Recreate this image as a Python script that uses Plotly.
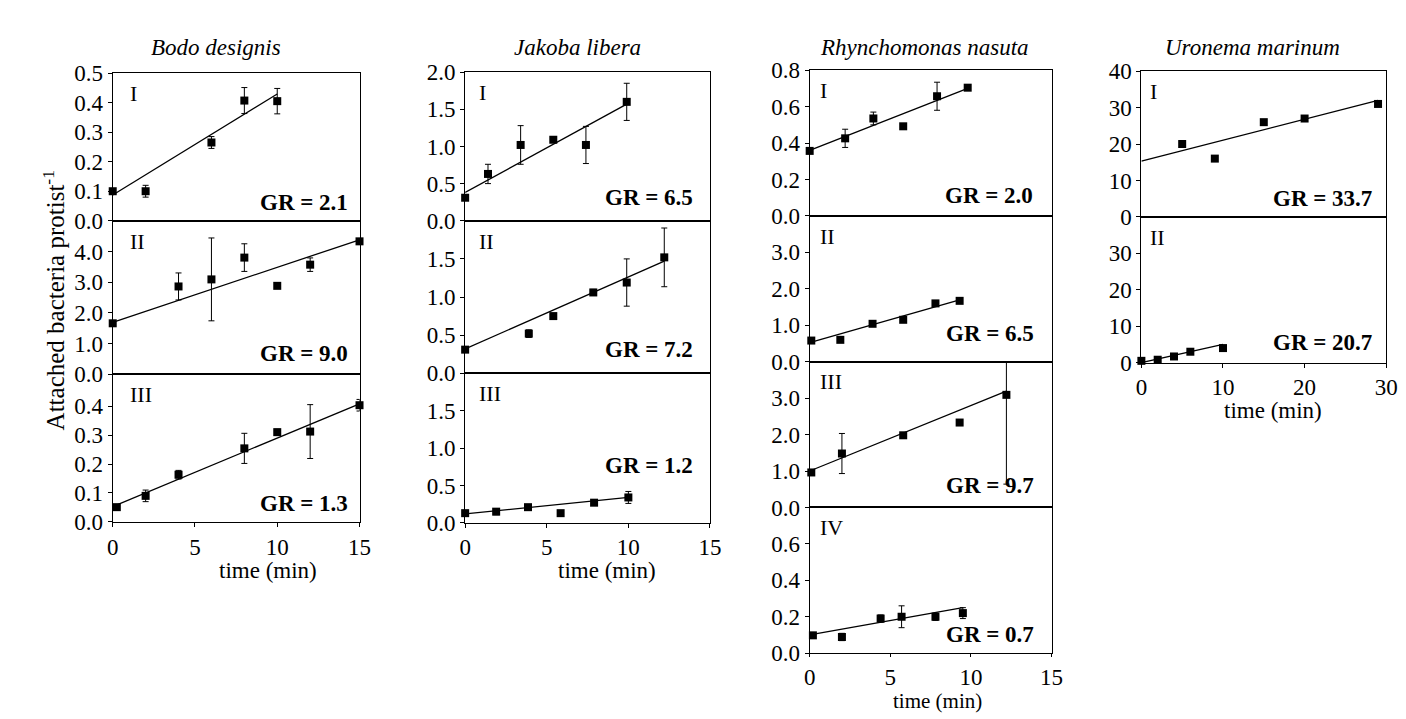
import plotly.graph_objects as go

# ---------------- data ----------------
species = ["Bodo designis", "Jakoba libera", "Rhynchomonas nasuta", "Uronema marinum"]
y_title = "Attached bacteria protist<sup>-1</sup>"
x_title = "time (min)"

# Bodo designis
bodo1_t = [0, 2, 6, 8, 10]
bodo1_y = [0.10, 0.10, 0.265, 0.407, 0.405]
bodo1_e = [0.0, 0.02, 0.02, 0.044, 0.043]
bodo1_fit_t = [0, 10]
bodo1_fit_y = [0.087, 0.429]
bodo1_gr = "GR = 2.1"

bodo2_t = [0, 4, 6, 8, 10, 12, 15]
bodo2_y = [1.66, 2.86, 3.09, 3.80, 2.88, 3.57, 4.33]
bodo2_e = [0.0, 0.44, 1.35, 0.45, 0.0, 0.22, 0.0]
bodo2_fit_t = [0, 15]
bodo2_fit_y = [1.69, 4.38]
bodo2_gr = "GR = 9.0"

bodo3_t = [0.25, 2, 4, 8, 10, 12, 15]
bodo3_y = [0.051, 0.090, 0.163, 0.254, 0.310, 0.312, 0.403]
bodo3_e = [0.0, 0.02, 0.015, 0.052, 0.01, 0.093, 0.02]
bodo3_fit_t = [0, 15]
bodo3_fit_y = [0.053, 0.408]
bodo3_gr = "GR = 1.3"

# Jakoba libera
jak1_t = [0, 1.4, 3.4, 5.4, 7.4, 9.9]
jak1_y = [0.31, 0.63, 1.02, 1.09, 1.02, 1.60]
jak1_e = [0.0, 0.13, 0.26, 0.03, 0.25, 0.25]
jak1_fit_t = [0, 9.9]
jak1_fit_y = [0.38, 1.57]
jak1_gr = "GR = 6.5"

jak2_t = [0, 3.9, 5.4, 7.85, 9.9, 12.2]
jak2_y = [0.31, 0.52, 0.75, 1.06, 1.19, 1.52]
jak2_e = [0.0, 0.05, 0.0, 0.04, 0.31, 0.385]
jak2_fit_t = [0, 12.2]
jak2_fit_y = [0.32, 1.47]
jak2_gr = "GR = 7.2"

jak3_t = [0, 1.9, 3.85, 5.85, 7.9, 10.0]
jak3_y = [0.13, 0.15, 0.21, 0.13, 0.27, 0.34]
jak3_e = [0.0, 0.04, 0.0, 0.0, 0.03, 0.08]
jak3_fit_t = [0, 10]
jak3_fit_y = [0.12, 0.34]
jak3_gr = "GR = 1.2"

# Rhynchomonas nasuta
rhy1_t = [0, 2.2, 3.95, 5.8, 7.9, 9.8]
rhy1_y = [0.357, 0.426, 0.535, 0.492, 0.657, 0.704]
rhy1_e = [0.0, 0.05, 0.035, 0.0, 0.077, 0.0]
rhy1_fit_t = [0, 9.8]
rhy1_fit_y = [0.36, 0.70]
rhy1_gr = "GR = 2.0"

rhy2_t = [0.1, 1.9, 3.9, 5.8, 7.8, 9.3]
rhy2_y = [0.58, 0.60, 1.04, 1.15, 1.60, 1.67]
rhy2_e = [0.0, 0.0, 0.0, 0.0, 0.0, 0.0]
rhy2_fit_t = [0, 9.3]
rhy2_fit_y = [0.52, 1.70]
rhy2_gr = "GR = 6.5"

rhy3_t = [0.1, 2.0, 5.8, 9.3, 12.2]
rhy3_y = [0.96, 1.48, 1.98, 2.33, 3.09]
rhy3_e = [0.0, 0.55, 0.0, 0.0, 2.45]
rhy3_fit_t = [0, 12.2]
rhy3_fit_y = [1.0, 3.19]
rhy3_gr = "GR = 9.7"

rhy4_t = [0.2, 2.0, 4.4, 5.7, 7.8, 9.5]
rhy4_y = [0.098, 0.089, 0.19, 0.20, 0.20, 0.22]
rhy4_e = [0.0, 0.02, 0.02, 0.06, 0.02, 0.03]
rhy4_fit_t = [0, 9.5]
rhy4_fit_y = [0.10, 0.25]
rhy4_gr = "GR = 0.7"

# Uronema marinum
uro1_t = [5, 9, 15, 20, 29]
uro1_y = [20.0, 16.0, 26.0, 27.0, 31.0]
uro1_e = [0, 0, 0, 0, 0]
uro1_fit_t = [0, 29]
uro1_fit_y = [15.3, 32.0]
uro1_gr = "GR = 33.7"

uro2_t = [0, 2, 4, 6, 10]
uro2_y = [0.5, 0.8, 1.7, 3.0, 4.0]
uro2_e = [0, 0, 0, 0, 0]
uro2_fit_t = [0, 10]
uro2_fit_y = [0.0, 5.0]
uro2_gr = "GR = 20.7"

roman = ["I", "II", "III", "IV"]

# ---------------- layout geometry (pixels) ----------------
W, H = 1406, 719
col_x = [(100, 350), (457, 705), (806, 1051), (1142, 1390)]
col_rows = [
    [(55, 208), (208, 367), (367, 520)],
    [(54, 208), (208, 366), (366, 521)],
    [(52, 203), (203, 354), (354, 505), (505, 656)],
    [(53, 204), (204, 355)],
]
x_ranges = [[0, 15], [0, 15], [0, 15], [0, 30]]
x_ticks = [[0, 5, 10, 15], [0, 5, 10, 15], [0, 5, 10, 15], [0, 10, 20, 30]]
x_ticklen = [4, 4, 3, 4]
title_cx = [205, 571, 922, 1255]           # species title centres
xtitle_cx = [257, 601, 935, 1275]          # "time (min)" centres
xtitle_cy = [570, 570, None, 405]          # None -> bottom of figure
roman_inset = [15, 12, 8, 7]

panels = [
    # col, row, t, y, err, fit_t, fit_y, gr, yrange, yticks, fmt, (gr right inset, gr baseline above bottom)
    (0, 0, bodo1_t, bodo1_y, bodo1_e, bodo1_fit_t, bodo1_fit_y, bodo1_gr, [0, 0.5], [0, 0.1, 0.2, 0.3, 0.4, 0.5], ".1f", (10, 10)),
    (0, 1, bodo2_t, bodo2_y, bodo2_e, bodo2_fit_t, bodo2_fit_y, bodo2_gr, [0, 5], [0, 1, 2, 3, 4], ".1f", (10, 12)),
    (0, 2, bodo3_t, bodo3_y, bodo3_e, bodo3_fit_t, bodo3_fit_y, bodo3_gr, [0, 0.51], [0, 0.1, 0.2, 0.3, 0.4], ".1f", (10, 10)),
    (1, 0, jak1_t, jak1_y, jak1_e, jak1_fit_t, jak1_fit_y, jak1_gr, [0, 2], [0, 0.5, 1, 1.5, 2], ".1f", (15, 15)),
    (1, 1, jak2_t, jak2_y, jak2_e, jak2_fit_t, jak2_fit_y, jak2_gr, [0, 2], [0, 0.5, 1, 1.5], ".1f", (15, 16)),
    (1, 2, jak3_t, jak3_y, jak3_e, jak3_fit_t, jak3_fit_y, jak3_gr, [0, 2], [0, 0.5, 1, 1.5], ".1f", (15, 50)),
    (2, 0, rhy1_t, rhy1_y, rhy1_e, rhy1_fit_t, rhy1_fit_y, rhy1_gr, [0, 0.8], [0, 0.2, 0.4, 0.6, 0.8], ".1f", (17, 12)),
    (2, 1, rhy2_t, rhy2_y, rhy2_e, rhy2_fit_t, rhy2_fit_y, rhy2_gr, [0, 4], [0, 1, 2, 3], ".1f", (16, 20)),
    (2, 2, rhy3_t, rhy3_y, rhy3_e, rhy3_fit_t, rhy3_fit_y, rhy3_gr, [0, 4], [0, 1, 2, 3], ".1f", (16, 14)),
    (2, 3, rhy4_t, rhy4_y, rhy4_e, rhy4_fit_t, rhy4_fit_y, rhy4_gr, [0, 0.8], [0, 0.2, 0.4, 0.6], ".1f", (16, 10)),
    (3, 0, uro1_t, uro1_y, uro1_e, uro1_fit_t, uro1_fit_y, uro1_gr, [0, 40], [0, 10, 20, 30, 40], "d", (12, 10)),
    (3, 1, uro2_t, uro2_y, uro2_e, uro2_fit_t, uro2_fit_y, uro2_gr, [0, 40], [0, 10, 20, 30], "d", (12, 12)),
]

FONT = "Liberation Serif, Times New Roman, serif"
fig = go.Figure()
annotations = []


def px_x(p):
    return p / W


def px_y(p):
    return 1 - p / H


for i, (c, r, t, y, e, ft, fy, gr, yr, yt, fmt, gro) in enumerate(panels):
    n = i + 1
    xa = "x" if n == 1 else f"x{n}"
    ya = "y" if n == 1 else f"y{n}"
    x0, x1 = col_x[c]
    top, bot = col_rows[c][r]
    is_bottom = r == len(col_rows[c]) - 1

    fig.add_trace(go.Scatter(
        x=ft, y=fy, mode="lines", line=dict(color="black", width=1.3),
        xaxis=xa, yaxis=ya, showlegend=False, hoverinfo="skip"))
    fig.add_trace(go.Scatter(
        x=t, y=y, mode="markers",
        marker=dict(symbol="square", size=8, color="black"),
        error_y=dict(type="data", array=e, visible=True, color="black",
                     thickness=1, width=3),
        cliponaxis=False,
        xaxis=xa, yaxis=ya, showlegend=False))

    xkey = "xaxis" if n == 1 else f"xaxis{n}"
    ykey = "yaxis" if n == 1 else f"yaxis{n}"
    xaxis = dict(
        domain=[px_x(x0), px_x(x1)], range=x_ranges[c], anchor=ya,
        showline=True, linecolor="black", linewidth=1, mirror=True,
        showgrid=False, zeroline=False, fixedrange=True)
    if is_bottom:
        xaxis.update(tickmode="array", tickvals=x_ticks[c], ticks="outside",
                     ticklen=x_ticklen[c], tickcolor="black", showticklabels=True,
                     tickfont=dict(family=FONT, size=23, color="black"))
    else:
        xaxis.update(showticklabels=False, ticks="")
    fig.layout[xkey] = xaxis
    fig.layout[ykey] = dict(
        domain=[px_y(bot), px_y(top)], range=yr, anchor=xa,
        showline=True, linecolor="black", linewidth=1, mirror=True,
        showgrid=False, zeroline=False,
        tickmode="array", tickvals=yt, tickformat=fmt,
        ticks="outside", ticklen=4, tickcolor="black",
        tickfont=dict(family=FONT, size=23, color="black"),
        fixedrange=True)

    annotations.append(dict(
        text=roman[r], x=px_x(x0 + roman_inset[c]), y=px_y(top + 6), xref="paper", yref="paper",
        xanchor="left", yanchor="top", showarrow=False,
        font=dict(family=FONT, size=22, color="black")))
    annotations.append(dict(
        text=f"<b>{gr}</b>", x=px_x(x1 - gro[0]), y=px_y(bot - gro[1] + 6), xref="paper", yref="paper",
        xanchor="right", yanchor="bottom", showarrow=False,
        font=dict(family=FONT, size=23, color="black")))

    if is_bottom:
        if xtitle_cy[c] is None:
            annotations.append(dict(
                text=x_title, x=px_x(xtitle_cx[c]), y=0, xref="paper", yref="paper",
                xanchor="center", yanchor="bottom", showarrow=False, borderpad=0,
                font=dict(family=FONT, size=21, color="black")))
        else:
            annotations.append(dict(
                text=x_title, x=px_x(xtitle_cx[c]), y=px_y(xtitle_cy[c]), xref="paper", yref="paper",
                xanchor="center", yanchor="middle", showarrow=False,
                font=dict(family=FONT, size=23, color="black")))

for c, name in enumerate(species):
    annotations.append(dict(
        text=f"<i>{name}</i>", x=px_x(title_cx[c]), y=px_y(28), xref="paper", yref="paper",
        xanchor="center", yanchor="middle", showarrow=False,
        font=dict(family=FONT, size=23, color="black")))

annotations.append(dict(
    text=y_title, x=px_x(40), y=px_y(290), xref="paper", yref="paper",
    xanchor="center", yanchor="middle", textangle=-90, showarrow=False,
    font=dict(family=FONT, size=25, color="black")))

fig.update_layout(
    width=W, height=H, margin=dict(l=0, r=0, t=0, b=0),
    paper_bgcolor="white", plot_bgcolor="white",
    annotations=annotations)

fig.write_html("out.html")
